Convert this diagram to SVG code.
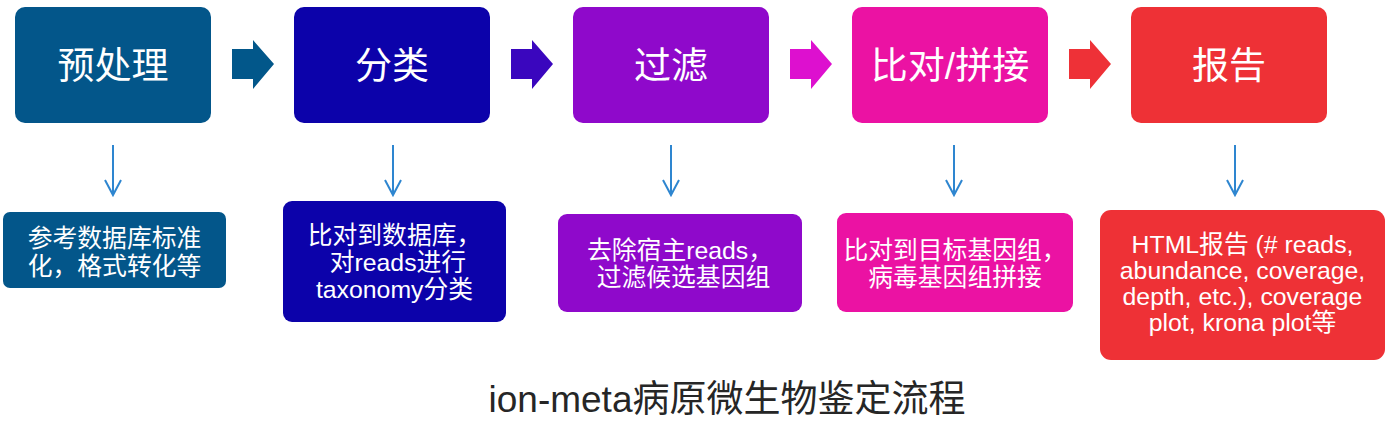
<svg xmlns="http://www.w3.org/2000/svg" width="1388" height="443" viewBox="0 0 1388 443">
<style>
text { font-family: "Liberation Sans", "Noto Sans CJK SC", sans-serif; fill: #ffffff; text-anchor: middle; }
.big { font-size: 37px; }
.small { font-size: 24.8px; }
.title { font-size: 37px; fill: #262626; }
.down { stroke: #2E86D0; stroke-width: 2; fill: none; }
.c1 { fill: #03568A; }
.c2 { fill: #0C02AA; }
.c3 { fill: #8F09CB; }
.c4 { fill: #EB12A3; }
.c5 { fill: #EE3136; }
</style>
<rect width="1388" height="443" fill="#ffffff"/>

<g id="step1">
<rect class="c1" x="15" y="7" width="196" height="116" rx="10"/>
<text class="big" x="113" y="78.5">预处理</text>
</g>
<g id="step2">
<rect class="c2" x="294" y="7" width="196" height="116" rx="10"/>
<text class="big" x="392" y="78.5">分类</text>
</g>
<g id="step3">
<rect class="c3" x="573" y="7" width="196" height="116" rx="10"/>
<text class="big" x="671" y="78.5">过滤</text>
</g>
<g id="step4">
<rect class="c4" x="852" y="7" width="196" height="116" rx="10"/>
<text class="big" x="950" y="78.5">比对/拼接</text>
</g>
<g id="step5">
<rect class="c5" x="1131" y="7" width="196" height="116" rx="10"/>
<text class="big" x="1229" y="78.5">报告</text>
</g>

<g id="desc1">
<rect class="c1" x="3" y="212" width="223" height="76" rx="7"/>
<text class="small" x="114.5" y="247">参考数据库标准</text>
<text class="small" x="114.5" y="275">化，格式转化等</text>
</g>
<g id="desc2">
<rect class="c2" x="283" y="201" width="223" height="121" rx="9"/>
<text class="small" x="394.5" y="244">比对到数据库，</text>
<text class="small" x="394.5" y="271" xml:space="preserve"> 对reads进行</text>
<text class="small" x="394.5" y="298">taxonomy分类</text>
</g>
<g id="desc3">
<rect class="c3" x="558" y="214" width="244" height="98" rx="9"/>
<text class="small" x="680" y="259">去除宿主reads，</text>
<text class="small" x="680" y="286" xml:space="preserve"> 过滤候选基因组</text>
</g>
<g id="desc4">
<rect class="c4" x="837" y="213" width="236" height="99" rx="9"/>
<text class="small" x="955" y="259">比对到目标基因组，</text>
<text class="small" x="955" y="286">病毒基因组拼接</text>
</g>
<g id="desc5">
<rect class="c5" x="1100" y="210" width="285" height="150" rx="11"/>
<text class="small" x="1242.5" y="253">HTML报告 (# reads,</text>
<text class="small" x="1242.5" y="279">abundance, coverage,</text>
<text class="small" x="1242.5" y="305">depth, etc.), coverage</text>
<text class="small" x="1242.5" y="331">plot, krona plot等</text>
</g>

<g id="connectors">
<polygon fill="#02578A" points="232,49 253,49 253,40 274,64 253,89 253,79 232,79"/>
<polygon fill="#3A06BE" points="511,49 532,49 532,40 553,64 532,89 532,79 511,79"/>
<polygon fill="#DD10CF" points="790,49 811,49 811,40 832,64 811,89 811,79 790,79"/>
<polygon fill="#EE3137" points="1069,49 1090,49 1090,40 1111,64 1090,89 1090,79 1069,79"/>
<path class="down" d="M113,145 V195 M105,180 L113,195 L121,180"/>
<path class="down" d="M393,145 V195 M385,180 L393,195 L401,180"/>
<path class="down" d="M671,145 V195 M663,180 L671,195 L679,180"/>
<path class="down" d="M954,145 V195 M946,180 L954,195 L962,180"/>
<path class="down" d="M1235,145 V195 M1227,180 L1235,195 L1243,180"/>
</g>

<text class="title" x="727" y="412">ion-meta病原微生物鉴定流程</text>
</svg>
